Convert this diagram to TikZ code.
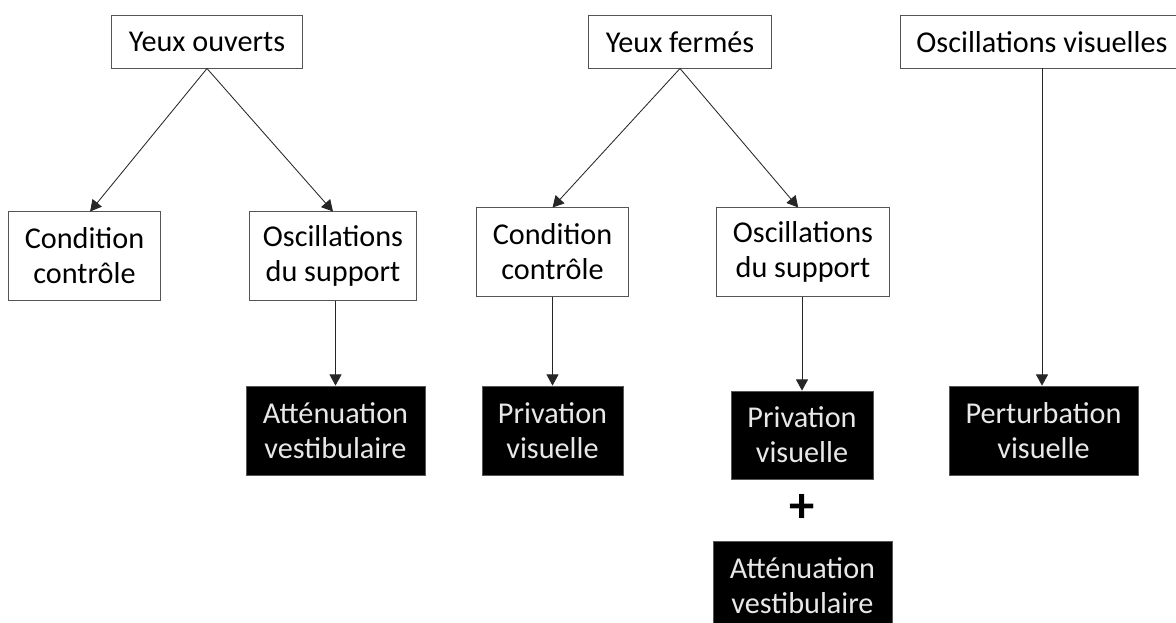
\documentclass[tikz,border=0pt]{standalone}
\usepackage{fontspec}
\setmainfont{Carlito}
\usetikzlibrary{arrows.meta}
\definecolor{edge}{HTML}{555555}
\definecolor{lighttext}{HTML}{E8E8E8}
\tikzset{
  wbox/.style={draw=edge, line width=0.7pt, fill=white, text=black, inner sep=0pt, align=center,
    font=\fontsize{21.5}{25}\selectfont, minimum height=2.2cm},
  bbox/.style={draw=edge, line width=0.5pt, fill=black, text=lighttext, inner sep=0pt, align=center,
    font=\fontsize{21.5}{25}\selectfont, minimum height=2.225cm},
  topbox/.style={wbox, minimum height=1.3cm},
  conn/.style={draw=black!85, line width=0.6pt, -{Triangle[width=0.3cm,length=0.28cm]}},
}
\begin{document}
\begin{tikzpicture}[x=0.025cm, y=-0.025cm]
\useasboundingbox (0,0) rectangle (1176,623);
\clip (0,0) rectangle (1176,623);
% top row
\node[topbox, minimum width=4.75cm] (yo) at (207,42) {Yeux ouverts};
\node[topbox, minimum width=4.55cm] (yf) at (680,42) {Yeux fermés};
\node[topbox, minimum width=7.05cm] (ov) at (1042,42) {Oscillations visuelles};
% second row
\node[wbox, minimum width=3.775cm] (cc1) at (84.5,256) {Condition\\contrôle};
\node[wbox, minimum width=4.15cm] (os1) at (333,256) {Oscillations\\du support};
\node[wbox, minimum width=3.775cm] (cc2) at (552.5,252) {Condition\\contrôle};
\node[wbox, minimum width=4.3cm] (os2) at (803,252) {Oscillations\\du support};
% black boxes
\node[bbox, minimum width=4.475cm] (av1) at (335.5,430.5) {Atténuation\\vestibulaire};
\node[bbox, minimum width=3.525cm] (pv1) at (552.5,430.5) {Privation\\visuelle};
\node[bbox, minimum width=3.55cm, minimum height=2.2cm] (pv2) at (802,435) {Privation\\visuelle};
\node[font=\fontsize{36}{36}\selectfont\bfseries, inner sep=0pt] (plus) at (802,508) {+};
\node[bbox, minimum width=4.475cm] (av2) at (802.5,585.5) {Atténuation\\vestibulaire};
\node[bbox, minimum width=4.725cm] (pert) at (1043.5,430.5) {Perturbation\\visuelle};
% connectors
\draw[conn] (yo.south) -- ([xshift=0.14cm]cc1.north);
\draw[conn] (yo.south) -- (os1.north);
\draw[conn] (yf.south) -- (cc2.north);
\draw[conn] (yf.south) -- ([xshift=-0.12cm]os2.north);
\draw[conn] (av1.north |- os1.south) -- (av1.north);
\draw[conn] (pv1.north |- cc2.south) -- (pv1.north);
\draw[conn] (pv2.north |- os2.south) -- (pv2.north);
\draw[conn] (ov.south) -- (ov.south |- pert.north);
\end{tikzpicture}
\end{document}
